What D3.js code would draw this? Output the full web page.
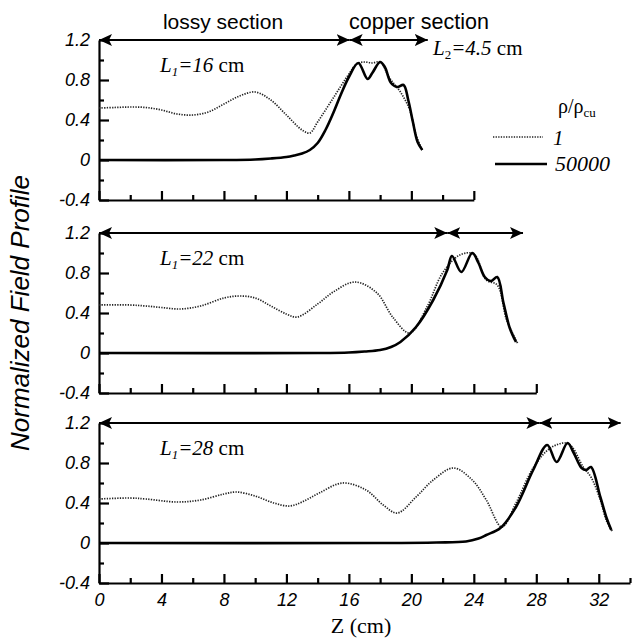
<!DOCTYPE html>
<html>
<head>
<meta charset="utf-8">
<script src="https://cdn.jsdelivr.net/npm/d3@7"></script>
<style>
  body { margin: 0; background: #fff; }
  svg { display: block; }
  .sans { font-family: "Liberation Sans", Arial, sans-serif; }
  .serif { font-family: "Liberation Serif", "Times New Roman", serif; }
</style>
</head>
<body>
<div id="zone"></div>
<script>
(function() {
  "use strict";

  // longueur de la section avec perte pour chaque panneau (cm)
  var lossyLengths = [16, 22, 28];
  // fin de l'axe Z pour chaque panneau
  var axisEnds = [24, 28, 34];
  // flèches : section avec perte et section cuivre [debut, fin]
  var lossyArrows = [[0, 16.05], [0, 22.3], [0, 28.2]];
  var copperArrows = [[16.05, 21.05], [22.3, 27.15], [28.2, 33.4]];

  var yTicksMajor = [-0.4, 0, 0.4, 0.8, 1.2];
  var yTicksMinor = [-0.2, 0.2, 0.6, 1.0];
  var xTicksMajor = [0, 4, 8, 12, 16, 20, 24, 28, 32];
  var xTicksMinor = [2, 6, 10, 14, 18, 22, 26, 30, 34];

  // rho/rho_cu = 1 (pointillé)
  var dotted16 = [[0,0.52],[1,0.525],[2,0.53],[3,0.525],[4,0.50],[5,0.46],[6,0.45],[7,0.48],[8,0.56],[9,0.64],[10,0.68],[11,0.60],[12,0.45],[13,0.30],[13.5,0.27],[14,0.38],[15,0.62],[16,0.86],[16.5,0.96],[17,0.98],[17.5,0.97],[18,0.98],[18.6,0.82],[19.3,0.68],[19.9,0.50],[20.3,0.25],[20.7,0.10]];
  var dotted22 = [[0,0.48],[2,0.48],[3,0.47],[4,0.455],[5.2,0.44],[6.5,0.47],[8,0.55],[9,0.57],[10,0.55],[11,0.47],[12,0.39],[12.7,0.36],[14,0.49],[15,0.61],[16.4,0.71],[17.8,0.6],[18.8,0.36],[19.9,0.2],[21,0.46],[22,0.8],[23.1,0.98],[24,0.99],[24.8,0.73],[25.5,0.68],[26.1,0.33],[26.8,0.1]];
  var dotted28 = [[0,0.44],[2,0.45],[3,0.44],[5,0.41],[6.5,0.43],[8,0.49],[8.8,0.51],[10,0.47],[11.2,0.4],[12.2,0.37],[13,0.41],[14.1,0.5],[15.6,0.6],[17.1,0.53],[18.2,0.38],[19.1,0.3],[20.3,0.46],[21.4,0.63],[22.7,0.75],[23.9,0.63],[24.8,0.43],[25.8,0.16],[26.7,0.4],[27.8,0.75],[28.9,0.95],[29.9,1.0],[30.3,0.96],[31,0.76],[31.5,0.66],[32.1,0.43],[32.5,0.22],[32.9,0.11]];

  // rho/rho_cu = 50000 (trait plein)
  var solid16 = [[0,0],[8,0],[10,0.005],[11,0.015],[12,0.03],[12.5,0.045],[13,0.065],[13.5,0.1],[14,0.17],[14.5,0.3],[15,0.47],[15.5,0.66],[16,0.83],[16.6,0.97],[17.2,0.81],[17.5,0.87],[18,0.98],[18.3,0.93],[18.7,0.77],[19.1,0.73],[19.5,0.75],[19.8,0.6],[20.1,0.38],[20.4,0.18],[20.7,0.1]];
  var solid22 = [[0,0],[14,0],[16,0.005],[17,0.015],[18,0.03],[18.7,0.06],[19.3,0.11],[20.3,0.26],[21.4,0.53],[22.3,0.83],[22.6,0.97],[23.2,0.81],[23.9,1.0],[24.3,0.9],[24.7,0.76],[25.1,0.72],[25.5,0.76],[25.9,0.5],[26.3,0.25],[26.7,0.11]];
  var solid28 = [[0,0],[18,0],[21.6,0.005],[23.5,0.015],[24.3,0.045],[24.8,0.08],[25.7,0.15],[26.7,0.36],[27.8,0.73],[28.7,0.98],[29.3,0.81],[30.0,1.0],[30.4,0.9],[30.9,0.75],[31.2,0.73],[31.5,0.76],[32.1,0.46],[32.5,0.25],[32.8,0.13]];

  var dottedSeries = [dotted16, dotted22, dotted28];
  var solidSeries = [solid16, solid22, solid28];

  var width = 633, height = 640;
  var panelTops = [40, 233, 423];
  var panelHeight = 160;

  var x = d3.scaleLinear().domain([0, 34]).range([99, 630]);

  var svg = d3.select("#zone").append("svg")
    .attr("width", width)
    .attr("height", height);

  // pointes de flèche
  var defs = svg.append("defs");
  defs.append("marker")
    .attr("id", "head")
    .attr("markerUnits", "userSpaceOnUse")
    .attr("markerWidth", 14).attr("markerHeight", 12)
    .attr("viewBox", "0 0 14 12")
    .attr("refX", 13).attr("refY", 6)
    .attr("orient", "auto-start-reverse")
    .append("path").attr("d", "M0,0 L13,6 L0,12 L3,6 Z").attr("fill", "#000");

  // format des graduations avec un tiret simple
  function fmtTick(d) {
    if (d === 0) return "0";
    return (d < 0 ? "-" : "") + Math.abs(d).toFixed(1);
  }

  lossyLengths.forEach(function(L1, i) {
    var y = d3.scaleLinear().domain([-0.4, 1.2]).range([panelTops[i] + panelHeight, panelTops[i]]);
    var xp = x.copy().domain([0, axisEnds[i]]).range([x(0), x(axisEnds[i])]);
    var g = svg.append("g");

    // axe Y
    g.append("g").attr("transform", "translate(" + x(0) + ",0)")
      .call(d3.axisLeft(y).tickValues(yTicksMajor).tickSizeInner(-10).tickSizeOuter(0).tickPadding(9).tickFormat(fmtTick));
    g.append("g").attr("transform", "translate(" + x(0) + ",0)")
      .call(d3.axisLeft(y).tickValues(yTicksMinor).tickSizeInner(-5).tickSizeOuter(0).tickFormat(""))
      .select(".domain").remove();

    // axe Z
    var majorX = xTicksMajor.filter(function(v) { return v <= axisEnds[i]; });
    var minorX = xTicksMinor.filter(function(v) { return v <= axisEnds[i]; });
    var gx = g.append("g").attr("transform", "translate(0," + y(-0.4) + ")")
      .call(d3.axisBottom(xp).tickValues(majorX).tickSizeInner(-9).tickSizeOuter(0).tickPadding(10)
        .tickFormat(i === 2 ? d3.format("d") : ""));
    g.append("g").attr("transform", "translate(0," + y(-0.4) + ")")
      .call(d3.axisBottom(xp).tickValues(minorX).tickSizeInner(-5).tickSizeOuter(0).tickFormat(""))
      .select(".domain").remove();

    g.selectAll(".domain, .tick line").attr("stroke", "#000").attr("stroke-width", 2.2);
    g.selectAll(".tick text")
      .attr("class", "sans")
      .style("font-style", "italic")
      .style("font-size", "18px")
      .attr("fill", "#000");
    gx.selectAll(".tick text").attr("dy", "0.72em");

    // courbes
    var line = d3.line()
      .x(function(d) { return x(d[0]); })
      .y(function(d) { return y(d[1]); })
      .curve(d3.curveCatmullRom.alpha(0.5));

    g.append("path").datum(dottedSeries[i])
      .attr("d", line)
      .attr("fill", "none")
      .attr("stroke", "#222")
      .attr("stroke-width", 1.7)
      .attr("stroke-dasharray", "1.3,1.3");

    g.append("path").datum(solidSeries[i])
      .attr("d", line)
      .attr("fill", "none")
      .attr("stroke", "#000")
      .attr("stroke-width", 2.6);

    // flèches des sections
    [lossyArrows[i], copperArrows[i]].forEach(function(a) {
      g.append("line")
        .attr("x1", x(a[0])).attr("x2", x(a[1]))
        .attr("y1", y(1.2)).attr("y2", y(1.2))
        .attr("stroke", "#000").attr("stroke-width", 2.2)
        .attr("marker-start", "url(#head)")
        .attr("marker-end", "url(#head)");
    });

    // étiquette L1
    var lab = g.append("text").attr("class", "serif")
      .attr("x", 160).attr("y", panelTops[i] + 32)
      .style("font-size", "21px").attr("fill", "#000");
    lab.append("tspan").style("font-style", "italic").text("L");
    lab.append("tspan").style("font-style", "italic").style("font-size", "13px").attr("dy", 4).text("1");
    lab.append("tspan").style("font-style", "italic").attr("dy", -4).text("=" + L1);
    lab.append("tspan").text(" cm");
  });

  // titres des sections
  svg.append("text").attr("class", "sans")
    .attr("x", 223).attr("y", 29).attr("text-anchor", "middle")
    .style("font-size", "21px").text("lossy section");
  svg.append("text").attr("class", "sans")
    .attr("x", 349).attr("y", 29)
    .style("font-size", "21.5px").text("copper section");

  var l2 = svg.append("text").attr("class", "serif")
    .attr("x", 433).attr("y", 55).style("font-size", "21px");
  l2.append("tspan").style("font-style", "italic").text("L");
  l2.append("tspan").style("font-size", "13px").attr("dy", 4).text("2");
  l2.append("tspan").style("font-style", "italic").attr("dy", -4).text("=4.5");
  l2.append("tspan").text(" cm");

  // légende
  var leg = svg.append("text").attr("class", "serif")
    .attr("x", 558).attr("y", 113).style("font-size", "20px");
  leg.append("tspan").text("ρ/ρ");
  leg.append("tspan").style("font-size", "13px").attr("dy", 4).text("cu");

  svg.append("line").attr("x1", 493).attr("x2", 543).attr("y1", 137).attr("y2", 137)
    .attr("stroke", "#222").attr("stroke-width", 1.7).attr("stroke-dasharray", "1.3,1.3");
  svg.append("text").attr("class", "serif").attr("x", 553).attr("y", 145)
    .style("font-size", "21px").style("font-style", "italic").text("1");
  svg.append("line").attr("x1", 495).attr("x2", 547).attr("y1", 164).attr("y2", 164)
    .attr("stroke", "#000").attr("stroke-width", 2.6);
  svg.append("text").attr("class", "serif").attr("x", 555).attr("y", 171)
    .style("font-size", "22px").style("font-style", "italic").text("50000");

  // titres des axes
  svg.append("text").attr("class", "sans")
    .attr("transform", "translate(29,313) rotate(-90)")
    .attr("text-anchor", "middle")
    .style("font-size", "26px").style("font-style", "italic")
    .text("Normalized Field Profile");

  svg.append("text").attr("class", "serif")
    .attr("x", 361).attr("y", 633).attr("text-anchor", "middle")
    .style("font-size", "22px").text("Z (cm)");

})();
</script>
</body>
</html>
